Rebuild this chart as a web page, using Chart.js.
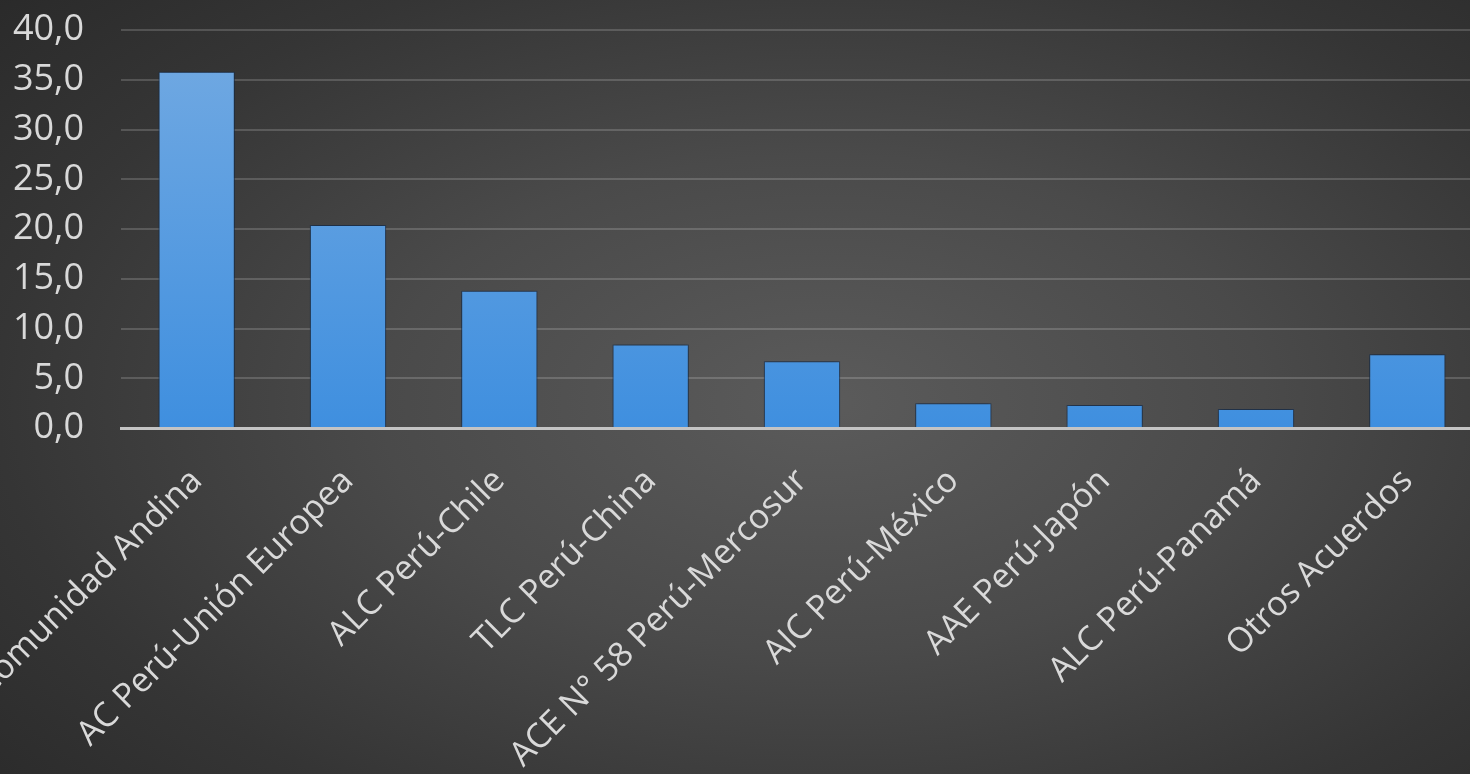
<!DOCTYPE html>
<html>
<head>
<meta charset="utf-8">
<script src="https://cdn.jsdelivr.net/npm/chart.js@4.4.1/dist/chart.umd.min.js"></script>
<style>
    html, body { margin: 0; padding: 0; overflow: hidden; }
    body {
        width: 1470px; height: 774px;
        background: radial-gradient(ellipse 75% 80% at 56% 52%, #5b5b5b 0%, #4a4a4a 40%, #353535 75%, #2a2a2a 100%);
    }
    #wrap { position: absolute; left: 0; top: 0; width: 1483px; height: 774px; }
</style>
</head>
<body>
<div id="wrap"><canvas id="acuerdos" width="1483" height="774"></canvas></div>
<script>
// Datos
var categorias = ['Comunidad Andina', 'AC Perú-Unión Europea', 'ALC Perú-Chile', 'TLC Perú-China',
    'ACE N° 58 Perú-Mercosur', 'AIC Perú-México', 'AAE Perú-Japón', 'ALC Perú-Panamá', 'Otros Acuerdos'];
var valores = [35.8, 20.4, 13.8, 8.4, 6.7, 2.5, 2.3, 1.9, 7.4];
var ejeY = { min: 0, max: 40, paso: 5 };

var fuente = '"Open Sans", "Noto Sans", sans-serif';

// Degradado de las barras
function colorBarra(context) {
    var chart = context.chart;
    var area = chart.chartArea;
    if (!area) return '#5b9bd5';
    var g = chart.ctx.createLinearGradient(0, area.top, 0, area.bottom);
    g.addColorStop(0, '#73aae2');
    g.addColorStop(1, '#3f8fdf');
    return g;
}

// Sombra suave de las barras
var sombra = {
    id: 'sombra',
    beforeDatasetsDraw: function(chart) {
        chart.ctx.save();
        chart.ctx.shadowColor = 'rgba(10, 25, 45, 0.75)';
        chart.ctx.shadowBlur = 6;
    },
    afterDatasetsDraw: function(chart) {
        chart.ctx.restore();
    }
};

var ctx = document.getElementById('acuerdos');

var grafico = new Chart(ctx, {
    type: 'bar',
    data: {
        labels: categorias,
        datasets: [
            {
                data: valores,
                backgroundColor: colorBarra,
                borderColor: 'rgba(25, 55, 95, 0.6)',
                borderWidth: 1,
                barPercentage: 0.72,
                categoryPercentage: 0.7
            }
        ]
    },
    options: {
        responsive: false,
        animation: false,
        devicePixelRatio: 1,
        layout: {
            autoPadding: false,
            padding: { top: 30, right: 0, bottom: 0, left: 0 }
        },
        plugins: {
            legend: { display: false },
            tooltip: { enabled: false }
        },
        scales: {
            x: {
                grid: { display: false },
                border: { color: '#c4c4c4', width: 3 },
                ticks: {
                    color: '#d9d9d9',
                    font: { family: fuente, size: 34 },
                    minRotation: 45,
                    maxRotation: 45,
                    padding: 25,
                    autoSkip: false
                },
                afterFit: function(scale) {
                    scale.height = 346;
                    scale.paddingLeft = 0;
                    scale.paddingRight = 0;
                }
            },
            y: {
                min: ejeY.min,
                max: ejeY.max,
                border: { display: false },
                grid: { color: 'rgba(255, 255, 255, 0.17)', lineWidth: 2, drawTicks: false },
                ticks: {
                    stepSize: ejeY.paso,
                    color: '#d9d9d9',
                    padding: 37,
                    font: { family: fuente, size: 36 },
                    callback: function(v) { return v.toFixed(1).replace('.', ','); }
                },
                afterFit: function(scale) {
                    scale.width = 121;
                    scale.paddingTop = 0;
                    scale.paddingBottom = 0;
                }
            }
        }
    },
    plugins: [sombra]
});
</script>
</body>
</html>
